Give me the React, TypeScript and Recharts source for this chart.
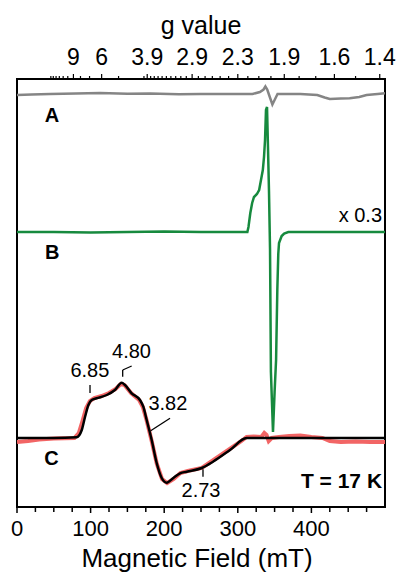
import {
  LineChart,
  Line,
  XAxis,
  YAxis,
  ReferenceArea,
  ReferenceDot,
  ReferenceLine,
  Label,
} from 'recharts';

const FONT = '"Liberation Sans", Arial, sans-serif';
const FIELD_MAX = 500;
const Y_MAX = 428;
// field (mT) = G_FIELD / g for this microwave frequency
const G_FIELD = 690;

// vertical offsets of the stacked spectra (a.u.)
const OFFSET_A = 413;
const OFFSET_B = 275;
const OFFSET_C = 69;

// A: gray
const fieldA = [0, 20, 45, 80, 113, 150, 181, 220, 249, 293, 320, 330, 335, 337.5, 340, 343, 347, 350, 354, 361, 385, 408, 418, 425, 440, 452, 465, 475, 490, 500];
const signalA = [-1, -0.5, 0, 0.5, 1, 0.3, 0.5, -0.3, 0, 0, 0, 2, 4.5, 7.5, 4.5, -2, -10.5, -6, 0, 0, 0, -1, -3.5, -5, -4.5, -4.3, -3, -1, 0, 0.7];

// B: green (x 0.3)
const fieldB = [0, 50, 100, 150, 200, 250, 290, 313, 314.5, 317, 319.5, 322, 326, 329, 331.5, 334, 335.6, 337, 338.3, 339.7, 341, 342.4, 343.8, 345, 347.8, 350, 352, 353.7, 355, 356, 359.6, 363, 368.6, 400, 450, 500];
const signalB = [0, 0, -0.5, 0, 0.5, 0, 0, 0, 5, 19, 29, 35, 38, 42, 52, 62, 75, 92, 122, 125, 85, 40, -18, -140, -200, -160, -128, -58, -22, -11, -4, -1.5, 0, 0, 0, 0];

// C: experiment (red)
const fieldExp = [0, 15, 30, 50, 78, 84, 89, 94, 99, 105, 115, 125, 134, 141, 146, 155, 166, 171, 176, 183, 190, 197, 204, 213, 222, 232, 251, 267, 289, 305, 312, 322, 332, 336, 339, 342, 346, 356, 370, 385, 400, 415, 425, 440, 460, 480, 500];
const signalExp = [-4, -3, -1.5, -0.5, 0, 5, 17, 30, 37, 40, 42, 45, 49, 54, 53, 45, 38, 31, 18, -3, -26, -41, -45, -41, -35, -33, -30, -22, -11, -3, 1, 1.5, 1, 5, 3, -3, 0, 1, 2, 2.5, 1, 0, -3, -4, -3.5, -4, -4];

// C: simulation (black)
const fieldFit = [0, 50, 81, 88, 92.4, 97, 101.5, 108, 122, 133, 142.3, 146.7, 155.8, 167, 171.6, 176.2, 183, 189.8, 196.6, 203.4, 212.4, 221.5, 230.6, 251, 266.7, 289.4, 312, 330, 400, 500];
const signalFit = [0, 0, 0.7, 8, 21, 33, 38, 39.7, 43, 48, 55.3, 53, 44.7, 38, 31.3, 18, -2, -25, -40, -44.7, -40, -35.3, -33.7, -30, -23.5, -12, 0, 0, 0, 0];

const fieldTicks = [0, 25, 50, 75, 100, 125, 150, 175, 200, 225, 250, 275, 300, 325, 350, 375, 400, 425, 450, 475];
const gMajor = ['9', '6', '3.9', '2.9', '2.3', '1.9', '1.6', '1.4'];
const gMinor = [15, 14, 13, 12, 11, 10, 8, 7, 5, 4, 3.8, 3.7, 3.6, 3.5, 3.4, 3.3, 3.2, 3.1, 3.0, 2.8, 2.7, 2.6, 2.5, 2.4, 2.2, 2.1, 2.0, 1.8, 1.7, 1.5];

// peak labels on C
const peakLabels = [
  { text: '6.85', x: 99, y: 130 },
  { text: '4.80', x: 155.6, y: 148.7 },
  { text: '3.82', x: 205, y: 97 },
  { text: '2.73', x: 250, y: 10 },
];

const toSeries = (xs: number[], ys: number[], offset: number) =>
  xs.map((x, i) => ({ x, y: offset + ys[i] }));

const dataA = toSeries(fieldA, signalA, OFFSET_A);
const dataB = toSeries(fieldB, signalB, OFFSET_B);
const dataExp = toSeries(fieldExp, signalExp, OFFSET_C);
const dataFit = toSeries(fieldFit, signalFit, OFFSET_C);

const topMajor = new Map(gMajor.map((g) => [G_FIELD / parseFloat(g), g]));
const topTicks = [...gMajor.map((g) => G_FIELD / parseFloat(g)), ...gMinor.map((g) => G_FIELD / g)].sort((a, b) => a - b);

function BottomTick(props: any) {
  const { x, y, payload } = props;
  const v = payload.value;
  const major = v % 100 === 0;
  return (
    <g>
      <line x1={x} x2={x} y1={y} y2={y + (major ? 6 : 5)} stroke="#000" strokeWidth={1.5} />
      {major && (
        <text x={x} y={y + 29} textAnchor="middle" fontSize={22} fontFamily={FONT} fill="#000">
          {v}
        </text>
      )}
    </g>
  );
}

function TopTick(props: any) {
  const { x, y, payload } = props;
  const label = topMajor.get(payload.value);
  return (
    <g>
      <line x1={x} x2={x} y1={y} y2={y - (label ? 5 : 3)} stroke="#000" strokeWidth={1.2} />
      {label && (
        <text x={x} y={y - 14} textAnchor="middle" fontSize={23} fontFamily={FONT} fill="#000">
          {label}
        </text>
      )}
    </g>
  );
}

const textAt = (text: string, size: number, bold = false, anchor = 'middle') => (p: any) => (
  <text
    x={p.cx}
    y={p.cy}
    textAnchor={anchor}
    fontSize={size}
    fontWeight={bold ? 'bold' : 'normal'}
    fontFamily={FONT}
    fill="#000"
  >
    {text}
  </text>
);

const seg = { stroke: '#000', strokeWidth: 1.3, ifOverflow: 'visible' as const, xAxisId: 'bottom', yAxisId: 'y' };

export default function App() {
  return (
    <div style={{ position: 'absolute', left: 0, top: 0, width: 398, height: 572, background: '#fff' }}>
      <LineChart width={398} height={572} margin={{ top: 0, right: 13, bottom: 0, left: 17 }}>
        <XAxis
          xAxisId="top"
          orientation="top"
          type="number"
          dataKey="x"
          domain={[0, FIELD_MAX]}
          allowDataOverflow
          ticks={topTicks}
          interval={0}
          tick={(p: any) => <TopTick {...p} />}
          tickLine={false}
          axisLine={false}
          tickSize={0}
          tickMargin={0}
          height={79}
        >
          <Label
            content={(p: any) => (
              <text
                x={p.viewBox.x + p.viewBox.width / 2}
                y={p.viewBox.y + 34}
                textAnchor="middle"
                fontSize={25}
                fontFamily={FONT}
                fill="#000"
              >
                g value
              </text>
            )}
          />
        </XAxis>
        <XAxis
          xAxisId="bottom"
          type="number"
          dataKey="x"
          domain={[0, FIELD_MAX]}
          allowDataOverflow
          ticks={fieldTicks}
          interval={0}
          tick={(p: any) => <BottomTick {...p} />}
          tickLine={false}
          axisLine={false}
          tickSize={0}
          tickMargin={0}
          height={65}
        >
          <Label
            content={(p: any) => (
              <text
                x={p.viewBox.x + p.viewBox.width / 2 - 4}
                y={p.viewBox.y + 60}
                textAnchor="middle"
                fontSize={26}
                fontFamily={FONT}
                fill="#000"
              >
                Magnetic Field (mT)
              </text>
            )}
          />
        </XAxis>
        <YAxis yAxisId="y" hide type="number" domain={[0, Y_MAX]} allowDataOverflow />

        <Line data={dataA} xAxisId="bottom" yAxisId="y" dataKey="y" type="linear" stroke="#858585" strokeWidth={2.5} dot={false} isAnimationActive={false} />
        <Line data={dataExp} xAxisId="bottom" yAxisId="y" dataKey="y" type="linear" stroke="#f26565" strokeWidth={4} dot={false} isAnimationActive={false} />
        <Line data={dataFit} xAxisId="bottom" yAxisId="y" dataKey="y" type="monotone" stroke="#000" strokeWidth={2.5} dot={false} isAnimationActive={false} />
        <Line data={dataB} xAxisId="bottom" yAxisId="y" dataKey="y" type="linear" stroke="#178a3e" strokeWidth={2.5} dot={false} isAnimationActive={false} />

        <ReferenceArea xAxisId="bottom" yAxisId="y" x1={0} x2={FIELD_MAX} y1={0} y2={Y_MAX} fill="none" stroke="#000" strokeWidth={2} ifOverflow="visible" />

        {/* peak markers */}
        <ReferenceLine {...seg} segment={[{ x: 99.2, y: 114 }, { x: 99.2, y: 122 }]} />
        <ReferenceLine {...seg} segment={[{ x: 143.6, y: 130.3 }, { x: 143.6, y: 137 }]} />
        <ReferenceLine {...seg} segment={[{ x: 143.6, y: 137 }, { x: 155.8, y: 141 }]} />
        <ReferenceLine {...seg} segment={[{ x: 181.6, y: 76.3 }, { x: 207.9, y: 88.7 }]} />
        <ReferenceLine {...seg} segment={[{ x: 252.7, y: 30.3 }, { x: 252.7, y: 37.7 }]} />

        {peakLabels.map((l) => (
          <ReferenceDot key={l.text} xAxisId="bottom" yAxisId="y" x={l.x} y={l.y} r={0} ifOverflow="visible" shape={textAt(l.text, 20)} />
        ))}

        <ReferenceDot xAxisId="bottom" yAxisId="y" x={47.6} y={385} r={0} ifOverflow="visible" shape={textAt('A', 20, true)} />
        <ReferenceDot xAxisId="bottom" yAxisId="y" x={48} y={248} r={0} ifOverflow="visible" shape={textAt('B', 20, true)} />
        <ReferenceDot xAxisId="bottom" yAxisId="y" x={47} y={42} r={0} ifOverflow="visible" shape={textAt('C', 20, true)} />
        <ReferenceDot xAxisId="bottom" yAxisId="y" x={496} y={285.3} r={0} ifOverflow="visible" shape={textAt('x 0.3', 20, false, 'end')} />
        <ReferenceDot xAxisId="bottom" yAxisId="y" x={496} y={18.7} r={0} ifOverflow="visible" shape={textAt('T = 17 K', 21, true, 'end')} />
      </LineChart>
    </div>
  );
}
